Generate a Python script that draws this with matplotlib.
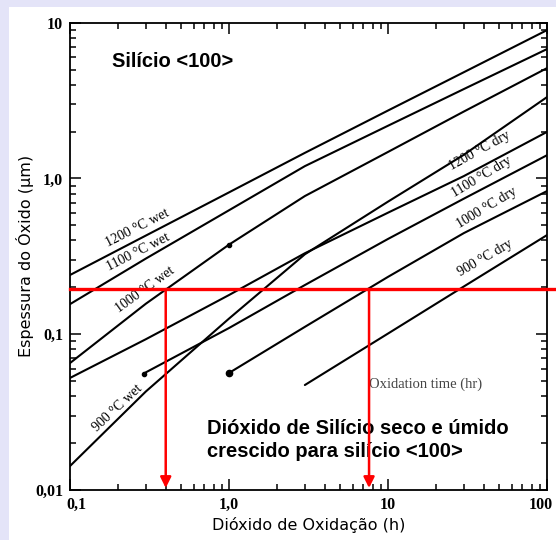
import matplotlib
matplotlib.use("Agg")
import matplotlib.pyplot as plt
from matplotlib.patches import Rectangle
from matplotlib.transforms import ScaledTranslation
from matplotlib.ticker import FixedLocator, FixedFormatter, LogLocator, NullFormatter

# oxidation time (h) and oxide thickness (um)
time_std = [0.1, 0.3, 1, 3, 10, 30, 100]
wet_1200 = [0.240, 0.430, 0.814, 1.46, 2.73, 4.81, 8.96]
wet_1100 = [0.156, 0.306, 0.625, 1.20, 2.18, 3.75, 6.77]
wet_1000 = [0.0653, 0.157, 0.376, 0.771, 1.48, 2.69, 5.11]
wet_900 = [0.01425, 0.0429, 0.126, 0.326, 0.710, 1.42, 3.33]
dry_1200 = [0.0524, 0.0929, 0.1785, 0.331, 0.603, 1.036, 1.99]
time_1100_dry = [0.29, 1, 3, 10, 30, 100]
dry_1100 = [0.0559, 0.1096, 0.2069, 0.409, 0.742, 1.41]
time_1000_dry = [1, 3, 10, 30, 100]
dry_1000 = [0.0564, 0.1115, 0.2335, 0.446, 0.830]
time_900_dry = [3, 10, 30, 100]
dry_900 = [0.0472, 0.101, 0.2026, 0.433]

x_ticks = [0.1, 1, 10, 100]
x_labels = ["0,1", "1,0", "10", "100"]
y_ticks = [0.01, 0.1, 1, 10]
y_labels = ["0,01", "0,1", "1,0", "10"]

target_thickness = 0.195
target_times = [0.4, 7.6]

fig = plt.figure(figsize=(5.56, 5.40), dpi=100)
fig.patch.set_facecolor("white")
fig.patches.append(Rectangle((0, 0), 9 / 556, 1, transform=fig.transFigure,
                             facecolor="#e4e4f8", edgecolor="none", zorder=-1))
fig.patches.append(Rectangle((0, 1 - 7 / 540), 1, 7 / 540, transform=fig.transFigure,
                             facecolor="#e4e4f8", edgecolor="none", zorder=-1))

ax = fig.add_axes([70 / 556, 1 - 490 / 540, 477 / 556, 467.3 / 540])
ax.set_xscale("log")
ax.set_yscale("log")
ax.set_xlim(0.1, 100)
ax.set_ylim(0.01, 10)

lw = 1.5
for t, d in [(time_std, wet_1200), (time_std, wet_1100), (time_std, wet_1000),
             (time_std, wet_900), (time_std, dry_1200), (time_1100_dry, dry_1100),
             (time_1000_dry, dry_1000), (time_900_dry, dry_900)]:
    ax.plot(t, d, color="black", lw=lw, solid_capstyle="round")

# start dots of the scanned curves
ax.plot(time_1000_dry[0], dry_1000[0], "o", color="black", ms=4.5)
ax.plot(time_1100_dry[0], dry_1100[0], "o", color="black", ms=3)
ax.plot(time_std[2], wet_1000[2], "o", color="black", ms=3)

serif = "Liberation Serif"
lab = dict(fontsize=10, family=serif, ha="center", va="center", rotation_mode="anchor")
ax.text(0.264, 0.481, "1200 °C wet", rotation=27, **lab)
ax.text(0.268, 0.337, "1100 °C wet", rotation=27, **lab)
ax.text(0.296, 0.192, "1000 °C wet", rotation=36, **lab)
ax.text(0.1975, 0.0336, "900 °C wet", rotation=43, **lab)
ax.text(37.9, 1.50, "1200 °C dry", rotation=29, **lab)
ax.text(39.0, 1.02, "1100 °C dry", rotation=31, **lab)
ax.text(41.9, 0.646, "1000 °C dry", rotation=31, **lab)
ax.text(40.7, 0.308, "900 °C dry", rotation=30, **lab)

ax.text(0.746, 0.227, "Oxidation time (hr)", transform=ax.transAxes, fontsize=10.5,
        family=serif, color="#444444", ha="center", va="center")
ax.text(0.088, 0.916, "Silício <100>", transform=ax.transAxes, fontsize=14.5,
        family="Liberation Sans", weight="bold", ha="left", va="center")
ax.text(0.287, 0.107, "Dióxido de Silício seco e úmido\ncrescido para silício <100>",
        transform=ax.transAxes, fontsize=14.5, family="Liberation Sans",
        weight="bold", ha="left", va="center", linespacing=1.25)

# red reading lines
red = "#ff0000"
ax.axhline(target_thickness, xmin=0, xmax=1.03, color=red, lw=2.4, clip_on=False, zorder=5)
for t in target_times:
    ax.annotate("", xy=(t, 0.0103), xytext=(t, target_thickness),
                arrowprops=dict(arrowstyle="-|>", color=red, lw=1.8,
                                mutation_scale=16, shrinkA=0, shrinkB=0), zorder=5)

ax.xaxis.set_major_locator(FixedLocator(x_ticks))
ax.xaxis.set_major_formatter(FixedFormatter(x_labels))
ax.yaxis.set_major_locator(FixedLocator(y_ticks))
ax.yaxis.set_major_formatter(FixedFormatter(y_labels))
ax.xaxis.set_minor_locator(LogLocator(base=10, subs=range(2, 10)))
ax.yaxis.set_minor_locator(LogLocator(base=10, subs=range(2, 10)))
ax.xaxis.set_minor_formatter(NullFormatter())
ax.yaxis.set_minor_formatter(NullFormatter())
ax.tick_params(which="both", direction="in", top=True, right=True, width=1.1)
ax.tick_params(which="major", length=8)
ax.tick_params(which="minor", length=4)
ax.tick_params(axis="y", which="major", pad=5)
ax.tick_params(axis="x", which="major", pad=5)
for lbl in ax.get_xticklabels() + ax.get_yticklabels():
    lbl.set_family(serif)
    lbl.set_fontsize(11.5)
    lbl.set_weight("bold")
for s in ax.spines.values():
    s.set_linewidth(1.3)

ax.set_xlabel("Dióxido de Oxidação (h)", fontsize=11.5, family="DejaVu Sans", labelpad=3)
ax.set_ylabel("Espessura do Óxido (µm)", fontsize=11.5, family="DejaVu Sans", labelpad=1)

# nudge outer x labels like in the scan (last one stays inside the picture)
fig.canvas.draw()
xl = ax.get_xticklabels()
xl[0].set_transform(xl[0].get_transform() + ScaledTranslation(6 / 100, 0, fig.dpi_scale_trans))
xl[-1].set_transform(xl[-1].get_transform() + ScaledTranslation(-6 / 100, 0, fig.dpi_scale_trans))

fig.savefig("out.png", dpi=100, facecolor=fig.get_facecolor())
